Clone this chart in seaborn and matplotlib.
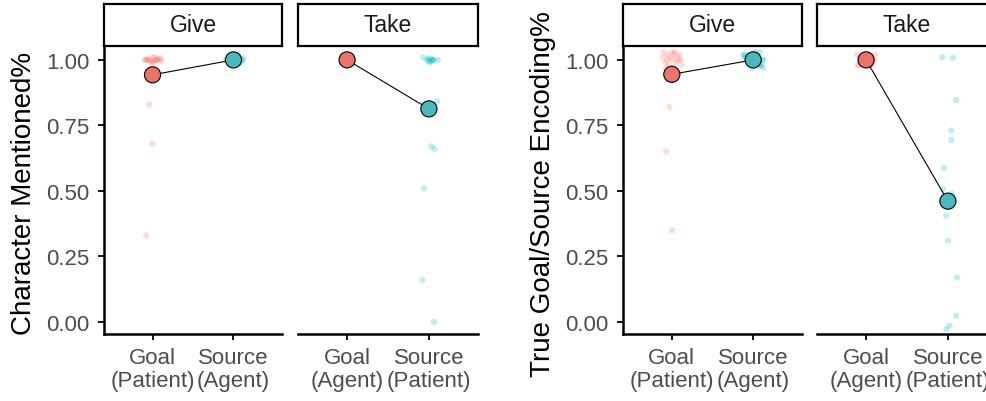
import matplotlib
matplotlib.use("Agg")
import matplotlib.pyplot as plt
import pandas as pd
import seaborn as sns

# facet panels and x tick labels
panels = ["Give", "Take"]
roles = ["Goal", "Source"]
give_labels = ["Goal\n(Patient)", "Source\n(Agent)"]
take_labels = ["Goal\n(Agent)", "Source\n(Patient)"]

# ---- Character Mentioned% : participant points (value) and their horizontal jitter (dx)
mention_give_goal = [1.00, 1.005, 0.995, 1.01, 0.99, 1.00, 1.005, 0.995, 1.00, 1.01,
                     0.99, 1.00, 1.00, 1.005, 0.995, 1.00, 1.00, 0.83, 0.68, 0.33]
mention_give_goal_dx = [-0.10, -0.06, -0.03, 0.00, 0.02, 0.05, 0.08, 0.11, -0.08, 0.03,
                        -0.01, 0.06, -0.04, 0.10, 0.00, -0.07, 0.04, -0.04, 0.00, -0.08]
mention_give_source = [1.00, 1.005, 0.995, 1.00, 1.01, 0.99, 1.00, 1.005, 0.995, 1.00,
                       1.00, 1.005, 0.995, 1.00, 1.01, 0.99, 1.00, 1.00]
mention_give_source_dx = [-0.09, -0.05, -0.02, 0.01, 0.04, 0.07, 0.11, 0.12, -0.07, 0.00,
                          0.03, 0.09, -0.04, 0.06, -0.01, 0.10, 0.05, -0.06]
mention_take_goal = [1.00, 1.005, 0.995, 1.00, 1.00, 1.005, 0.995, 1.00, 1.00, 1.005,
                     0.995, 1.00, 1.00, 1.00, 1.005, 0.995, 1.00]
mention_take_goal_dx = [-0.05, -0.03, 0.00, 0.02, 0.04, -0.02, 0.03, -0.04, 0.01, 0.05,
                        -0.01, 0.00, 0.03, -0.03, 0.02, 0.04, -0.05]
mention_take_source = [1.01, 1.00, 0.995, 1.005, 1.00, 0.99, 1.00, 1.005, 0.995, 1.00,
                       1.00, 0.84, 0.67, 0.66, 0.51, 0.16, 0.00]
mention_take_source_dx = [-0.07, -0.03, 0.00, 0.02, 0.04, 0.01, 0.05, -0.01, 0.03, 0.11,
                          0.06, 0.10, 0.03, 0.07, -0.06, -0.08, 0.06]
mention_give_means = [0.943, 1.00]
mention_take_means = [1.00, 0.813]

# ---- True Goal/Source Encoding%
encode_give_goal = [1.03, 1.02, 1.03, 1.01, 1.00, 0.99, 1.02, 0.98, 1.00, 1.01,
                    0.97, 1.00, 1.02, 0.99, 0.98, 1.01, 1.03, 0.97, 1.00, 0.82, 0.65, 0.35]
encode_give_goal_dx = [-0.10, -0.05, 0.00, 0.06, 0.11, -0.08, 0.03, -0.03, 0.08, -0.11,
                       0.02, -0.06, 0.10, 0.05, 0.12, -0.02, 0.04, -0.07, 0.00, -0.03, -0.07, 0.00]
encode_give_source = [1.02, 1.01, 1.00, 0.99, 0.98, 1.03, 0.97, 1.00, 1.02, 0.99,
                      1.01, 0.98, 1.00, 1.02, 0.97, 1.00, 1.01, 0.99, 1.03, 1.00, 0.98, 1.01]
encode_give_source_dx = [-0.12, -0.08, -0.04, 0.00, 0.04, 0.08, 0.12, 0.13, -0.10, -0.02,
                         0.06, 0.10, -0.06, 0.02, -0.01, 0.11, -0.11, 0.07, 0.03, -0.05, 0.09, 0.05]
encode_take_goal = [1.02, 1.01, 1.00, 0.99, 0.98, 1.02, 0.98, 1.00, 1.01, 0.99,
                    1.00, 1.02, 0.98, 1.00, 1.01]
encode_take_goal_dx = [-0.11, -0.06, -0.02, 0.03, 0.08, 0.11, -0.09, 0.00, 0.05, -0.04,
                       0.10, 0.02, -0.10, 0.06, -0.07]
encode_take_source = [1.01, 1.008, 0.847, 0.730, 0.695, 0.587, 0.508, 0.489, 0.470, 0.406,
                      0.310, 0.170, 0.024, -0.014, -0.027]
encode_take_source_dx = [-0.07, 0.06, 0.10, 0.04, 0.04, -0.05, -0.06, 0.05, 0.02, -0.02,
                         0.00, 0.11, 0.10, 0.02, -0.02]
encode_give_means = [0.945, 1.00]
encode_take_means = [1.00, 0.461]

point_colors = {"Goal": "#F8766D", "Source": "#00BFC4"}
mean_colors = {"Goal": "#E9746C", "Source": "#4BB8BE"}
tick_grey = "#4D4D4D"

sns.set_style("ticks")
plt.rcParams["font.family"] = ["Liberation Sans", "DejaVu Sans"]

W, H = 987, 402
fig = plt.figure(figsize=(W / 100, H / 100), dpi=100)


def px_axes(x0, x1, y_top, y_bot):
    return fig.add_axes([x0 / W, 1 - y_bot / H, (x1 - x0) / W, (y_bot - y_top) / H])


def draw_panel(x0, x1, title, goal, goal_dx, source, source_dx, means, labels, first):
    ax = px_axes(x0, x1, 47, 335)
    df = pd.DataFrame({
        "role": ["Goal"] * len(goal) + ["Source"] * len(source),
        "value": goal + source,
        "x": [d for d in goal_dx] + [1 + d for d in source_dx],
    })
    sns.scatterplot(data=df, x="x", y="value", hue="role", palette=point_colors,
                    alpha=0.25, s=20, linewidth=0, legend=False, ax=ax)
    mdf = pd.DataFrame({"role": roles, "x": [0, 1], "value": means})
    sns.lineplot(data=mdf, x="x", y="value", color="black", linewidth=0.8, ax=ax)
    sns.scatterplot(data=mdf, x="x", y="value", hue="role", palette=mean_colors,
                    s=135, edgecolor="black", linewidth=0.8, legend=False, ax=ax, zorder=5)

    ax.set_xlim(-0.6, 1.6)
    ax.set_ylim(-0.046, 1.053)
    ax.set_xticks([0, 1])
    ax.set_xticklabels(labels, fontsize=16, color=tick_grey, linespacing=1.1)
    ax.set_xlabel("")
    ax.set_ylabel("")
    ax.set_yticks([0, 0.25, 0.5, 0.75, 1.0])
    ax.set_yticklabels(["0.00", "0.25", "0.50", "0.75", "1.00"], fontsize=16, color=tick_grey)
    ax.tick_params(axis="both", length=4.5, width=1.3, color="black", pad=5)
    ax.tick_params(axis="y", pad=6)
    for side in ["top", "right"]:
        ax.spines[side].set_visible(False)
    for side in ["bottom", "left"]:
        ax.spines[side].set_linewidth(1.8)
        ax.spines[side].set_color("black")
    if not first:
        ax.spines["left"].set_visible(False)
        ax.tick_params(axis="y", left=False, labelleft=False)

    strip = px_axes(x0, x1, 5, 46.5)
    strip.set_xticks([])
    strip.set_yticks([])
    for s in strip.spines.values():
        s.set_visible(True)
        s.set_linewidth(1.6)
        s.set_color("black")
    strip.text(0.5, 0.5, title, ha="center", va="center", fontsize=16.5, color="#1A1A1A",
               transform=strip.transAxes)
    return ax


# left chart
draw_panel(104, 282, "Give", mention_give_goal, mention_give_goal_dx,
           mention_give_source, mention_give_source_dx, mention_give_means, give_labels, True)
draw_panel(298, 478, "Take", mention_take_goal, mention_take_goal_dx,
           mention_take_source, mention_take_source_dx, mention_take_means, take_labels, False)
fig.text(24 / W, 1 - 193 / H, "Character Mentioned%", rotation=90, ha="center",
         va="center", fontsize=20, color="black")

# right chart (cropped at the right edge like the original)
draw_panel(623, 802, "Give", encode_give_goal, encode_give_goal_dx,
           encode_give_source, encode_give_source_dx, encode_give_means, give_labels, True)
draw_panel(817, 997, "Take", encode_take_goal, encode_take_goal_dx,
           encode_take_source, encode_take_source_dx, encode_take_means, take_labels, False)
fig.text(543 / W, 1 - 194 / H, "True Goal/Source Encoding%", rotation=90, ha="center",
         va="center", fontsize=20, color="black")

fig.savefig("out.png", dpi=100)
